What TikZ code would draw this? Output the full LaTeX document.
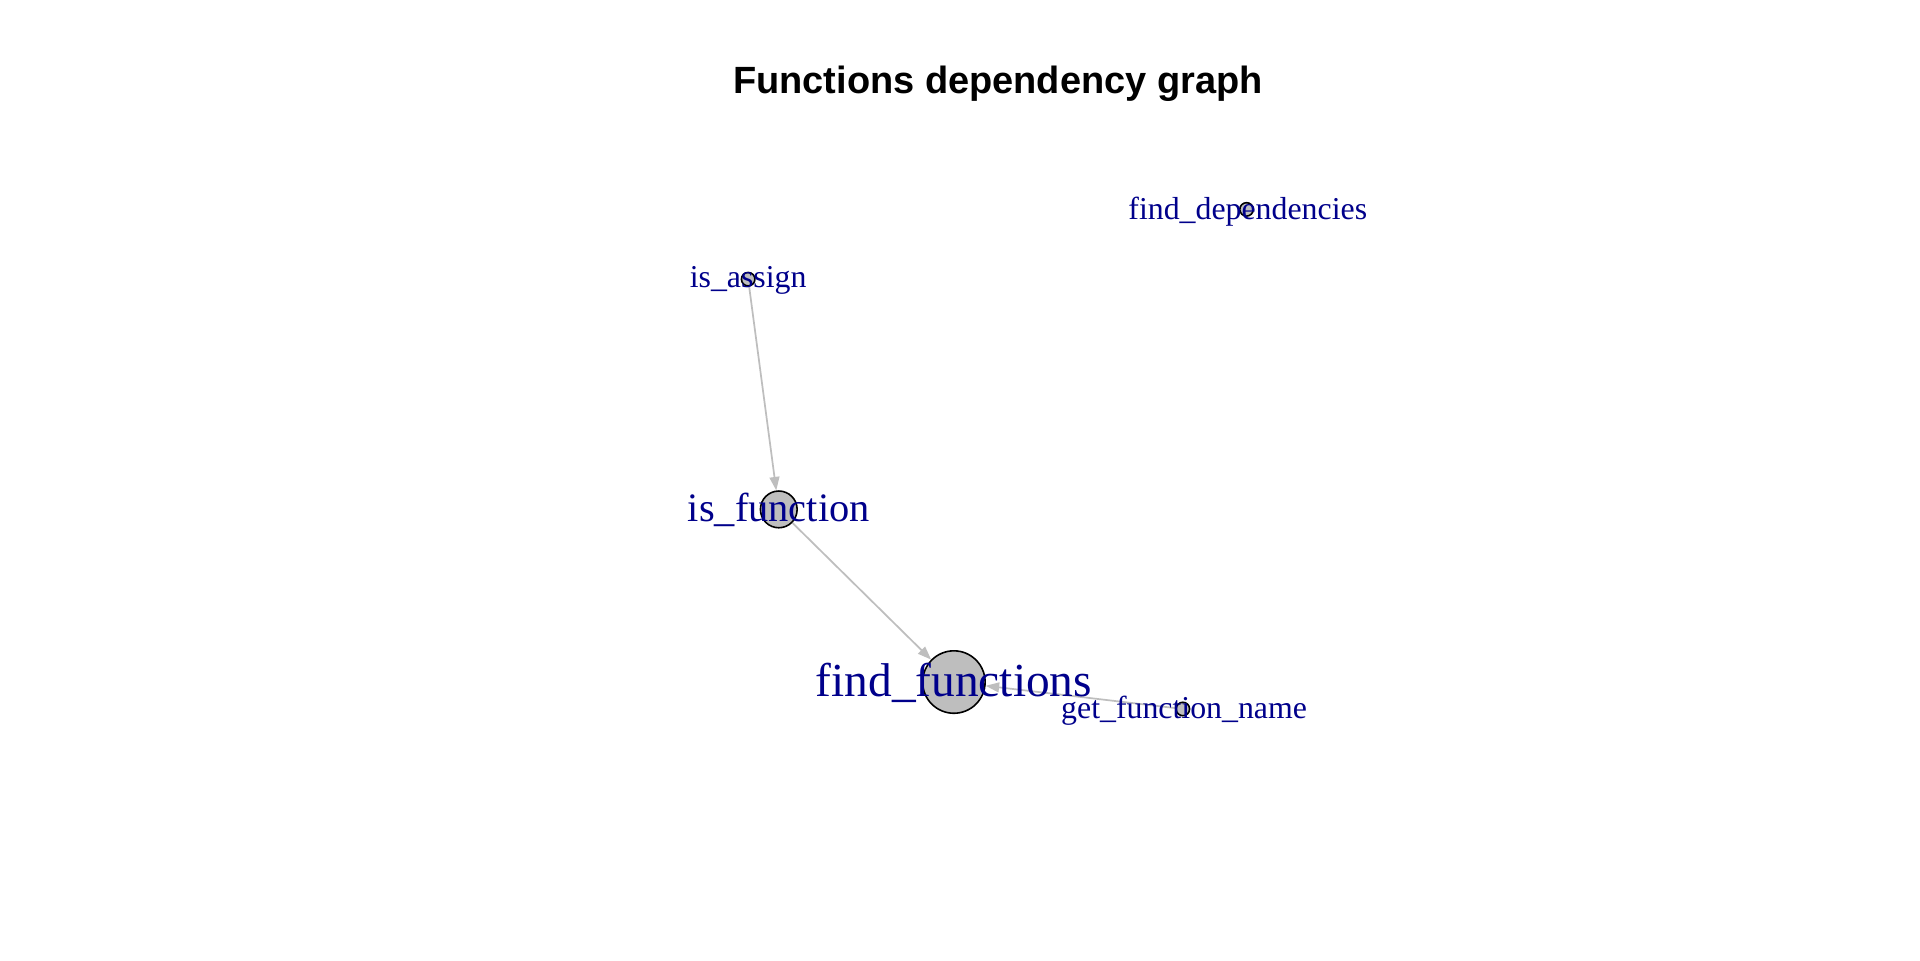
\documentclass[tikz,border=0pt]{standalone}
\usepackage{fontspec}
\setmainfont{Liberation Serif}
\newfontfamily\titlefont{Liberation Sans}
\usetikzlibrary{arrows.meta}
\definecolor{lab}{HTML}{00008B}
\definecolor{vgray}{HTML}{BEBEBE}
\begin{document}
\begin{tikzpicture}[x=1pt,y=-1pt,
 vert/.style={circle,draw=black,line width=1.3pt,fill=vgray,inner sep=0pt},
 lbl/.style={text=lab,inner sep=0pt,anchor=base},
 small/.style={font=\fontsize{26}{30}\selectfont},
 edge/.style={draw=vgray,line width=1.4pt,-{Triangle[length=11pt,width=8pt]}}]
\path[fill=white] (0,0) rectangle (1568,784);
\useasboundingbox (0,0) rectangle (1568,784);
\node[anchor=base,inner sep=0pt,font=\titlefont\bfseries\fontsize{31}{36}\selectfont] (title) at (815,76) {Functions dependency graph};
% vertices
\node[vert,minimum size=11pt] (ia) at (611,228) {};
\node[vert,minimum size=11pt] (fd) at (1018,171) {};
\node[vert,minimum size=30pt] (if) at (636,416) {};
\node[vert,minimum size=51pt] (ff) at (779,557) {};
\node[vert,minimum size=11pt] (gf) at (966,579) {};
% edges
\draw[edge] (ia) -- (if);
\draw[edge] (if) -- (ff);
\draw[edge] (gf) -- (ff);
% labels
\node[lbl,small] (lia) at (611,235) {is\_assign};
\node[lbl,small] (lfd) at (1019,179) {find\_dependencies};
\node[lbl,font=\fontsize{33}{38}\selectfont] (lif) at (636,426) {is\_function};
\node[lbl,font=\fontsize{38.7}{44}\selectfont] (lff) at (779,569) {find\_functions};
\node[lbl,small] (lgf) at (967,587) {get\_function\_name};
\end{tikzpicture}
\end{document}
